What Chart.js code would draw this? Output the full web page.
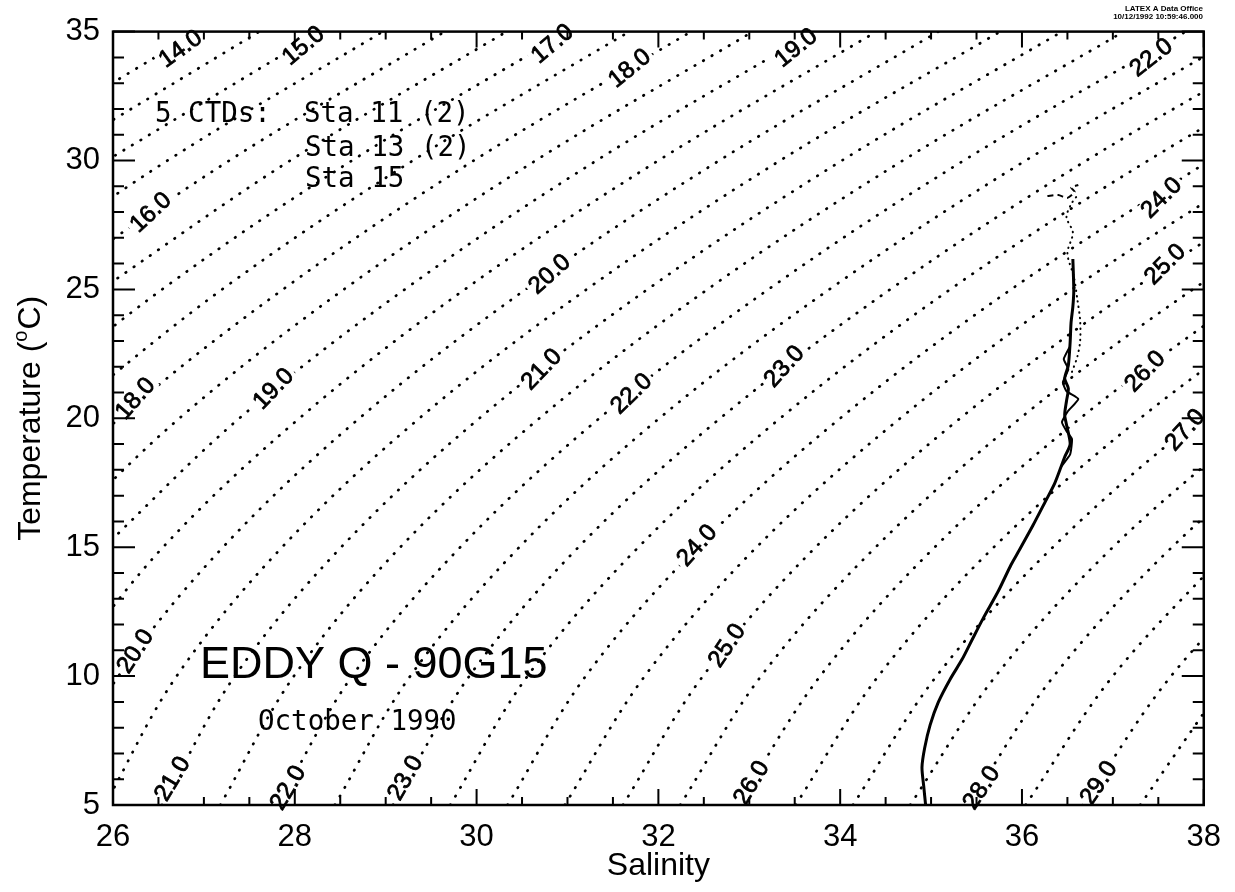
<!DOCTYPE html>
<html>
<head>
<meta charset="utf-8">
<script src="https://cdn.jsdelivr.net/npm/chart.js@4.4.1/dist/chart.umd.min.js"></script>
<style>
  html, body { margin: 0; padding: 0; background: #fff; }
  #wrap { width: 1235px; height: 892px; }
</style>
</head>
<body>
<div id="wrap"><canvas id="ts" width="1235" height="892"></canvas></div>
<script>
// ---- Background isopycnals (sigma-t), every 0.5 ----
const sigmaLevels = [14.0, 14.5, 15.0, 15.5, 16.0, 16.5, 17.0, 17.5, 18.0, 18.5, 19.0, 19.5,
                     20.0, 20.5, 21.0, 21.5, 22.0, 22.5, 23.0, 23.5, 24.0, 24.5, 25.0, 25.5,
                     26.0, 26.5, 27.0, 27.5, 28.0, 28.5, 29.0, 29.5];
// Salinity at which each isopycnal crosses the temperature level (null: not used there)
const salAtT5  = [null, null, null, null, null, null, null, null, null, null, null, null,
                  25.28, 25.91, 26.54, 27.18, 27.81, 28.44, 29.08, 29.71, 30.34, 30.97, 31.61, 32.24,
                  32.87, 33.51, 34.14, 34.77, 35.41, 36.04, 36.67, 37.30];
const salAtT10 = [null, null, null, null, null, null, null, null, null, null, null, 25.41,
                  26.06, 26.70, 27.34, 27.99, 28.63, 29.27, 29.92, 30.56, 31.20, 31.85, 32.49, 33.13,
                  33.78, 34.42, 35.06, 35.71, 36.35, 37.00, 37.64, 38.28];
const salAtT15 = [null, null, null, null, null, null, null, null, 24.60, 25.25, 25.90, 26.55,
                  27.21, 27.86, 28.51, 29.16, 29.82, 30.47, 31.12, 31.78, 32.43, 33.08, 33.73, 34.39,
                  35.04, 35.69, 36.34, 37.00, 37.65, 38.30, 38.96, null];
const salAtT20 = [null, null, null, null, null, null, 24.75, 25.41, 26.07, 26.73, 27.39, 28.05,
                  28.71, 29.37, 30.03, 30.69, 31.35, 32.01, 32.68, 33.34, 34.00, 34.66, 35.32, 35.98,
                  36.64, 37.30, 37.96, 38.62, 39.28, null, null, null];
const salAtT25 = [null, null, null, 24.53, 25.20, 25.87, 26.54, 27.20, 27.87, 28.54, 29.21, 29.87,
                  30.54, 31.21, 31.88, 32.54, 33.21, 33.88, 34.55, 35.21, 35.88, 36.55, 37.22, 37.88,
                  38.55, 39.22, 39.89, null, null, null, null, null];
const salAtT30 = [24.58, 25.26, 25.93, 26.60, 27.28, 27.95, 28.63, 29.30, 29.97, 30.65, 31.32, 32.00,
                  32.67, 33.34, 34.02, 34.69, 35.36, 36.04, 36.71, 37.39, 38.06, 38.73, 39.41, 40.08,
                  null, null, null, null, null, null, null, null];
const salAtT35 = [26.93, 27.61, 28.29, 28.97, 29.65, 30.33, 31.01, 31.68, 32.36, 33.04, 33.72, 34.40,
                  35.08, 35.76, 36.44, 37.12, 37.80, 38.48, 39.16, 39.84, null, null, null, null,
                  null, null, null, null, null, null, null, null];
const tempLevels = [5, 10, 15, 20, 25, 30, 35];
const salByTemp = [salAtT5, salAtT10, salAtT15, salAtT20, salAtT25, salAtT30, salAtT35];

// ---- Contour labels as printed on the diagram ----
const labelText = ['14.0', '15.0', '17.0', '18.0', '19.0', '22.0', '16.0', '20.0', '24.0', '25.0',
                   '18.0', '19.0', '21.0', '22.0', '23.0', '24.0', '26.0', '27.0', '20.0', '21.0',
                   '22.0', '23.0', '25.0', '26.0', '28.0', '29.0'];
const labelSal  = [26.74, 28.09, 30.83, 31.68, 33.51, 37.42, 26.41, 30.80, 37.53, 37.57,
                   26.24, 27.76, 30.71, 31.70, 33.38, 32.42, 37.35, 37.79, 26.24, 26.65,
                   27.92, 29.21, 32.75, 33.02, 35.55, 36.84];
const labelTemp = [34.35, 34.47, 34.54, 33.59, 34.39, 34.01, 28.00, 25.61, 28.57, 25.99,
                   20.78, 21.16, 21.92, 20.97, 22.03, 15.08, 21.84, 19.56, 10.97, 6.03,
                   5.68, 6.06, 11.20, 5.87, 5.68, 5.87];
const labelAngle = [36, 40, 40, 39, 39, 38, 43, 42, 45, 45,
                    49, 46, 46, 44, 48, 48, 46, 48, 57, 59,
                    59, 60, 56, 59, 56, 56];

// ---- CTD profiles (salinity, temperature) ----
const ctdMainSal = [34.94, 34.92, 34.90, 34.93, 34.99, 35.08, 35.21, 35.34, 35.45, 35.57,
                    35.74, 35.88, 35.96, 36.12, 36.25, 36.36, 36.43, 36.47, 36.53, 36.49,
                    36.47, 36.49, 36.51, 36.47, 36.51, 36.53, 36.54, 36.56, 36.57, 36.56];
const ctdMainTemp = [5.00, 5.70, 6.46, 7.22, 8.11, 8.99, 9.88, 10.64, 11.40, 12.22,
                     13.30, 14.32, 14.82, 15.84, 16.72, 17.48, 18.12, 18.50, 19.00, 19.75,
                     20.14, 20.67, 21.16, 21.54, 22.05, 22.95, 23.71, 24.33, 24.96, 26.18];
const ctdWiggleSal  = [36.43, 36.53, 36.55, 36.49, 36.44, 36.50, 36.62, 36.49, 36.45, 36.51, 36.46, 36.53];
const ctdWiggleTemp = [18.12, 18.60, 19.20, 19.50, 19.85, 20.25, 20.75, 21.05, 21.40, 21.90, 22.30, 22.80];
const ctdUpperSal  = [36.55, 36.61, 36.64, 36.64, 36.61, 36.57, 36.50, 36.56, 36.49, 36.54, 36.60];
const ctdUpperTemp = [21.80, 22.40, 23.00, 23.80, 24.60, 25.50, 26.40, 27.20, 27.80, 28.30, 28.60];
const ctdTopSal  = [36.28, 36.40, 36.50, 36.58, 36.54, 36.62];
const ctdTopTemp = [28.62, 28.66, 28.55, 28.78, 28.95, 29.05];

// ---- Axes ----
const salTicks = [26, 28, 30, 32, 34, 36, 38];
const salMinorTicks = [26.5, 27, 27.5, 28.5, 29, 29.5, 30.5, 31, 31.5, 32.5, 33, 33.5,
                       34.5, 35, 35.5, 36.5, 37, 37.5];
const tempTicks = [5, 10, 15, 20, 25, 30, 35];
const tempMinorTicks = [6, 7, 8, 9, 11, 12, 13, 14, 16, 17, 18, 19, 21, 22, 23, 24,
                        26, 27, 28, 29, 31, 32, 33, 34];

const SANS = '"Liberation Sans", Arial, Helvetica, sans-serif';
const MONO = '"DejaVu Sans Mono", monospace';

function pairs(sx, ty) {
  return sx.map((s, i) => ({ x: s, y: ty[i] }));
}

const datasets = [];
datasets.push({ data: pairs(ctdMainSal, ctdMainTemp), borderColor: '#000', borderWidth: 3, tension: 0.25 });
datasets.push({ data: pairs(ctdWiggleSal, ctdWiggleTemp), borderColor: '#000', borderWidth: 2, tension: 0.15 });
datasets.push({ data: pairs(ctdUpperSal, ctdUpperTemp), borderColor: '#000', borderWidth: 2,
                borderDash: [0.5, 5], borderCapStyle: 'round', tension: 0.3 });
datasets.push({ data: pairs(ctdTopSal, ctdTopTemp), borderColor: '#000', borderWidth: 2,
                borderDash: [6, 4], tension: 0.2 });

sigmaLevels.forEach((sig, i) => {
  const pts = [];
  tempLevels.forEach((t, k) => {
    const s = salByTemp[k][i];
    if (s !== null) pts.push({ x: s, y: t });
  });
  datasets.push({
    label: 'sigma ' + sig.toFixed(1),
    data: pts,
    borderColor: '#000',
    borderWidth: 2.7,
    borderDash: [0.5, 9.4],
    borderCapStyle: 'round',
    tension: 0.35
  });
});
datasets.forEach(d => { d.showLine = true; d.pointRadius = 0; d.fill = false; });

const decorations = {
  id: 'decorations',
  afterDatasetsDraw(chart) {
    const { ctx, chartArea: a, scales: { x, y } } = chart;
    ctx.save();

    // contour labels, each on a small white patch that breaks the dotted line
    ctx.font = '24px ' + SANS;
    ctx.textAlign = 'center';
    ctx.textBaseline = 'middle';
    ctx.lineWidth = 0.8;
    ctx.strokeStyle = '#000';
    labelText.forEach((t, i) => {
      const px = x.getPixelForValue(labelSal[i]);
      const py = y.getPixelForValue(labelTemp[i]);
      ctx.save();
      ctx.translate(px, py);
      ctx.rotate(-labelAngle[i] * Math.PI / 180);
      const w = ctx.measureText(t).width;
      ctx.fillStyle = '#fff';
      ctx.fillRect(-w / 2 - 3, -10, w + 6, 20);
      ctx.fillStyle = '#000';
      ctx.fillText(t, 0, 1);
      ctx.strokeText(t, 0, 1);
      ctx.restore();
    });

    // frame
    ctx.strokeStyle = '#000';
    ctx.lineWidth = 2.5;
    ctx.strokeRect(a.left, a.top, a.right - a.left, a.bottom - a.top);

    // inward tick marks on all four sides
    ctx.lineWidth = 2;
    ctx.beginPath();
    const xTick = (v, len) => {
      const px = x.getPixelForValue(v);
      ctx.moveTo(px, a.bottom); ctx.lineTo(px, a.bottom - len);
      ctx.moveTo(px, a.top); ctx.lineTo(px, a.top + len);
    };
    const yTick = (v, len) => {
      const py = y.getPixelForValue(v);
      ctx.moveTo(a.left, py); ctx.lineTo(a.left + len, py);
      ctx.moveTo(a.right, py); ctx.lineTo(a.right - len, py);
    };
    salTicks.forEach(v => xTick(v, 16));
    salMinorTicks.forEach(v => xTick(v, 8));
    tempTicks.forEach(v => yTick(v, 22));
    tempMinorTicks.forEach(v => yTick(v, 11));
    ctx.stroke();

    ctx.fillStyle = '#000';
    ctx.textBaseline = 'alphabetic';

    // axis titles
    ctx.font = '32px ' + SANS;
    ctx.textAlign = 'center';
    ctx.fillText('Salinity', (a.left + a.right) / 2, 875);

    ctx.save();
    ctx.translate(40, (a.top + a.bottom) / 2);
    ctx.rotate(-Math.PI / 2);
    ctx.textAlign = 'left';
    const big = '32px ' + SANS, small = '20px ' + SANS;
    ctx.font = big;
    const p1 = 'Temperature (', p3 = 'C)';
    const w1 = ctx.measureText(p1).width, w3 = ctx.measureText(p3).width;
    ctx.font = small;
    const w2 = ctx.measureText('o').width + 1;
    let cx = -(w1 + w2 + w3) / 2;
    ctx.font = big; ctx.fillText(p1, cx, 0); cx += w1;
    ctx.font = small; ctx.fillText('o', cx, -13); cx += w2;
    ctx.font = big; ctx.fillText(p3, cx, 0);
    ctx.restore();

    // station list
    ctx.textAlign = 'left';
    ctx.font = '27.5px ' + MONO;
    ctx.fillText('5 CTDs:  Sta 11 (2)', 155, 122);
    ctx.fillText('Sta 13 (2)', 305, 156);
    ctx.fillText('Sta 15', 305, 187);

    // title block
    ctx.font = '45px ' + SANS;
    ctx.fillText('EDDY Q - 90G15', 200, 678);
    ctx.font = '27.5px ' + MONO;
    ctx.fillText('October 1990', 258, 730);

    // plot stamp
    ctx.font = 'bold 8px ' + SANS;
    ctx.textAlign = 'right';
    ctx.fillText('LATEX A Data Office', 1203, 11);
    ctx.fillText('10/12/1992 10:59:46.000', 1203, 19);

    ctx.restore();
  }
};

new Chart(document.getElementById('ts'), {
  type: 'scatter',
  data: { datasets },
  options: {
    responsive: false,
    animation: false,
    devicePixelRatio: 1,
    layout: { padding: { top: 16, right: 29, left: 0, bottom: 0 } },
    plugins: { legend: { display: false }, tooltip: { enabled: false } },
    elements: { point: { radius: 0 } },
    scales: {
      x: {
        type: 'linear', min: 26, max: 38,
        grid: { display: false, drawTicks: false },
        border: { display: false },
        afterBuildTicks: s => { s.ticks = salTicks.map(v => ({ value: v })); },
        afterFit: s => { s.height = 87; },
        ticks: { padding: 14, color: '#000', autoSkip: false, maxRotation: 0,
                 font: { family: SANS, size: 31 } }
      },
      y: {
        type: 'linear', min: 5, max: 35,
        grid: { display: false, drawTicks: false },
        border: { display: false },
        afterBuildTicks: s => { s.ticks = tempTicks.map(v => ({ value: v })); },
        afterFit: s => { s.width = 113; },
        ticks: { padding: 13, color: '#000', autoSkip: false,
                 font: { family: SANS, size: 31 } }
      }
    }
  },
  plugins: [decorations]
});
</script>
</body>
</html>
